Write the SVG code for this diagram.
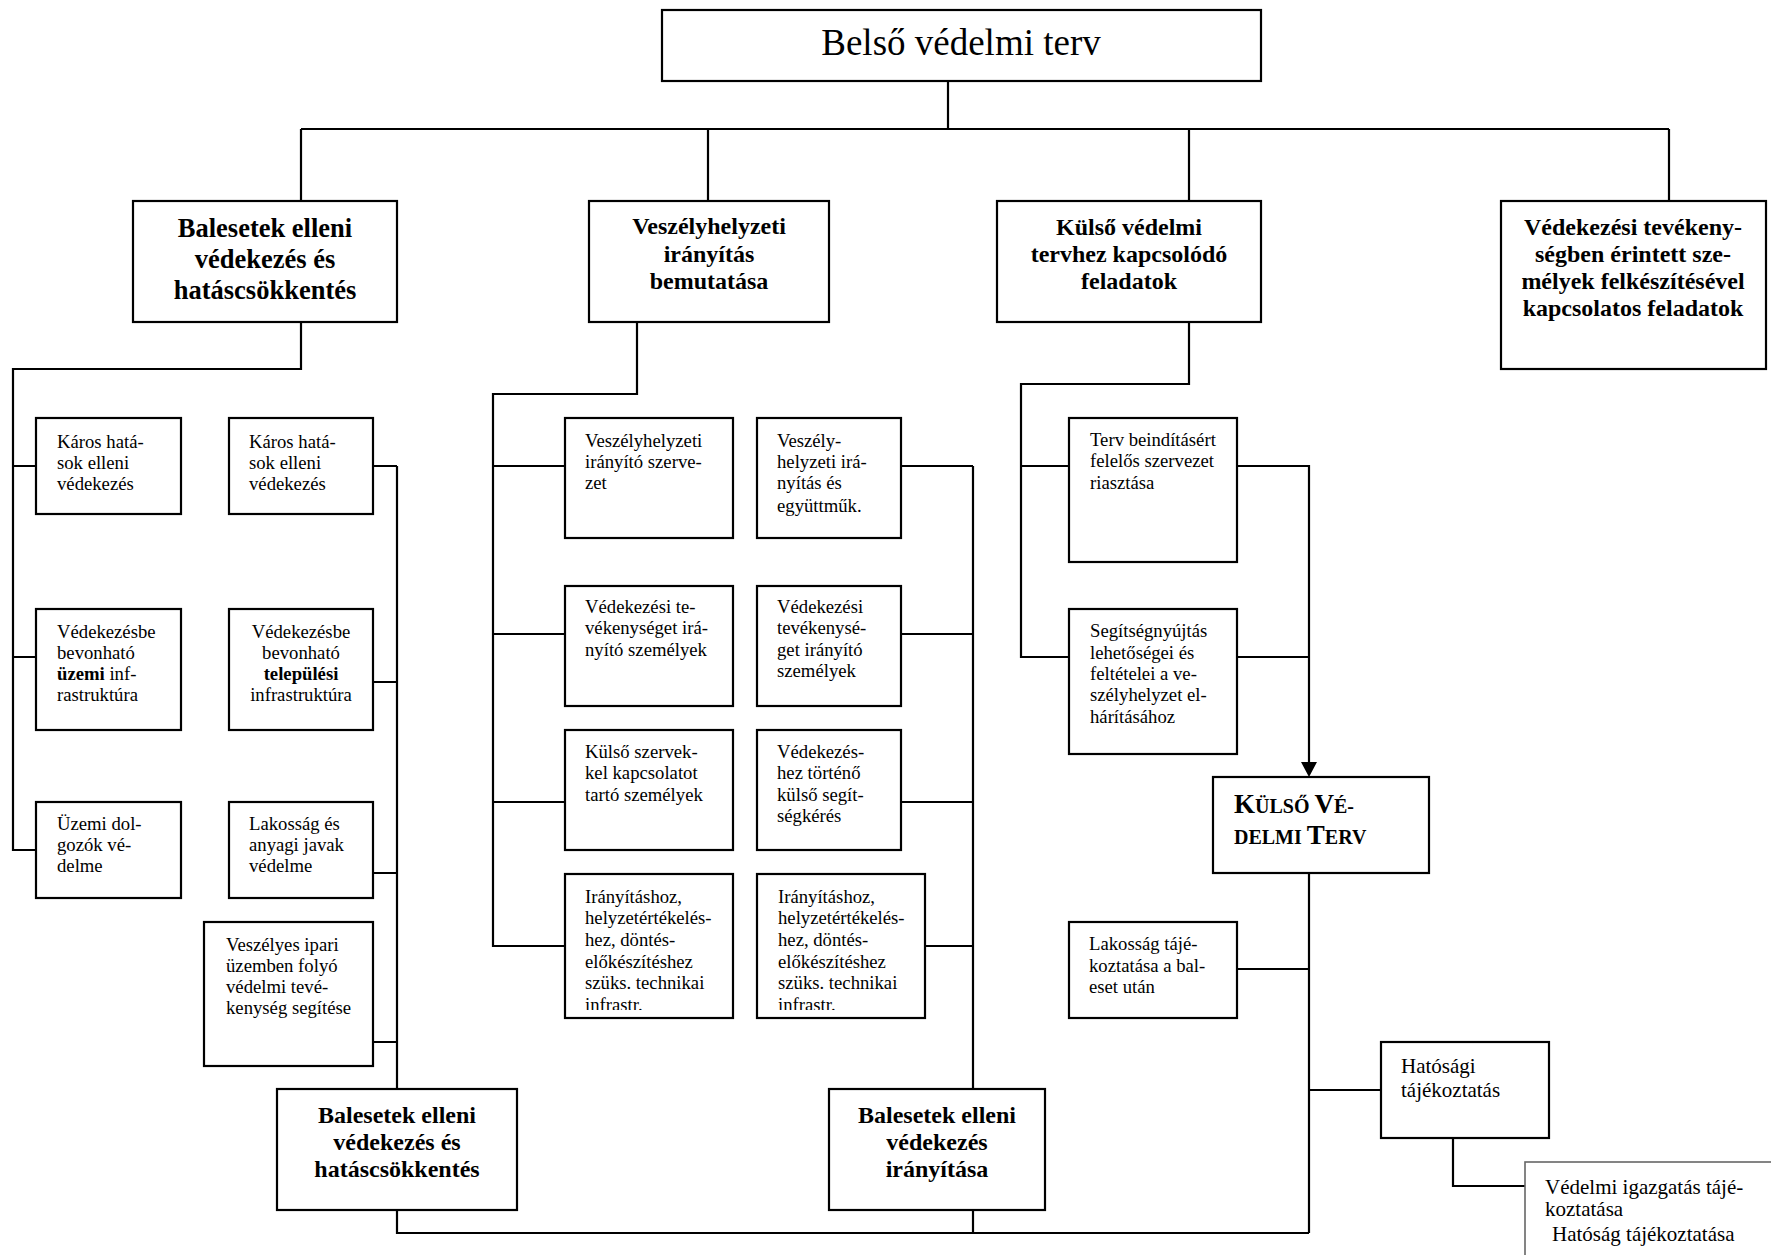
<svg xmlns="http://www.w3.org/2000/svg" width="1771" height="1255" viewBox="0 0 1771 1255">
  <style>
    .box { fill: #fff; stroke: #000; stroke-width: 2.2; }
    .ln { fill: none; stroke: #000; stroke-width: 2.2; }
    .t { font-family: "Liberation Serif", "Times New Roman", serif; font-size: 18.7px; fill: #000; }
    .hd { font-family: "Liberation Serif", "Times New Roman", serif; font-size: 24px; font-weight: bold; text-anchor: middle; fill: #000; }
    .c { text-anchor: middle; }
    .b { font-weight: bold; }
    .big { font-size: 21px; }
  </style>
  <defs>
    <!-- filled arrowhead, drawn along +x so orient="auto" turns it with the line -->
    <marker id="arrow" markerWidth="16" markerHeight="16" refX="0" refY="8" orient="auto" markerUnits="userSpaceOnUse" viewBox="0 0 16 16">
      <path d="M0,0 L15,8 L0,16 Z" fill="#000"/>
    </marker>
    <clipPath id="clipC4"><rect x="565" y="874" width="168" height="136"/></clipPath>
    <clipPath id="clipD4"><rect x="757" y="874" width="168" height="136"/></clipPath>
  </defs>

  <!-- connectors -->
  <g id="connectors">
    <path class="ln" d="M948,81 V129"/>
    <path class="ln" d="M301,129 H1669"/>
    <path class="ln" d="M301,129 V201 M708,129 V201 M1189,129 V201 M1669,129 V201"/>

    <!-- left branch -->
    <path class="ln" d="M301,322 V369 H13 V850 H36"/>
    <path class="ln" d="M13,466 H36 M13,657 H36"/>
    <path class="ln" d="M373,466 H397 M373,682 H397 M373,873 H397 M373,1042 H397"/>
    <path class="ln" d="M397,466 V1089"/>
    <path class="ln" d="M397,1210 V1233 H1309"/>

    <!-- middle branch -->
    <path class="ln" d="M637,322 V394 H493 V946 H565"/>
    <path class="ln" d="M493,466 H565 M493,634 H565 M493,802 H565"/>
    <path class="ln" d="M901,466 H973 M901,634 H973 M901,802 H973 M925,946 H973"/>
    <path class="ln" d="M973,466 V1089"/>
    <path class="ln" d="M973,1210 V1233"/>

    <!-- right branch -->
    <path class="ln" d="M1189,322 V384 H1021 V657 H1069"/>
    <path class="ln" d="M1021,466 H1069"/>
    <path class="ln" d="M1237,466 H1309 V762" marker-end="url(#arrow)"/>
    <path class="ln" d="M1237,657 H1309"/>
    <path class="ln" d="M1309,873 V1233"/>
    <path class="ln" d="M1237,969 H1309"/>
    <path class="ln" d="M1309,1090 H1381"/>
    <path class="ln" d="M1453,1138 V1186 H1525"/>
  </g>

  <!-- title -->
  <g id="title">
    <rect class="box" x="662" y="10" width="599" height="71"/>
    <text class="t c" x="961" y="55" style="font-size:37px">Belső védelmi terv</text>
  </g>

  <!-- level 1 -->
  <g id="balesetek">
    <rect class="box" x="133" y="201" width="264" height="121"/>
    <text class="hd" x="265" style="font-size:26.5px"><tspan x="265" y="237">Balesetek elleni</tspan><tspan x="265" y="268">védekezés és</tspan><tspan x="265" y="299">hatáscsökkentés</tspan></text>
  </g>
  <g id="veszelyhelyzeti">
    <rect class="box" x="589" y="201" width="240" height="121"/>
    <text class="hd"><tspan x="709" y="234">Veszélyhelyzeti</tspan><tspan x="709" y="262">irányítás</tspan><tspan x="709" y="289">bemutatása</tspan></text>
  </g>
  <g id="kulso-feladatok">
    <rect class="box" x="997" y="201" width="264" height="121"/>
    <text class="hd"><tspan x="1129" y="235">Külső védelmi</tspan><tspan x="1129" y="262">tervhez kapcsolódó</tspan><tspan x="1129" y="289">feladatok</tspan></text>
  </g>
  <g id="felkeszites">
    <rect class="box" x="1501" y="201" width="265" height="168"/>
    <text class="hd"><tspan x="1633" y="235">Védekezési tevékeny-</tspan><tspan x="1633" y="262">ségben érintett sze-</tspan><tspan x="1633" y="289">mélyek felkészítésével</tspan><tspan x="1633" y="316">kapcsolatos feladatok</tspan></text>
  </g>

  <!-- left column A -->
  <g id="a1">
    <rect class="box" x="36" y="418" width="145" height="96"/>
    <text class="t"><tspan x="57" y="448">Káros hatá-</tspan><tspan x="57" y="469">sok elleni</tspan><tspan x="57" y="490">védekezés</tspan></text>
  </g>
  <g id="a2">
    <rect class="box" x="36" y="609" width="145" height="121"/>
    <text class="t"><tspan x="57" y="638">Védekezésbe</tspan><tspan x="57" y="659">bevonható</tspan><tspan x="57" y="680"><tspan class="b">üzemi</tspan> inf-</tspan><tspan x="57" y="701">rastruktúra</tspan></text>
  </g>
  <g id="a3">
    <rect class="box" x="36" y="802" width="145" height="96"/>
    <text class="t"><tspan x="57" y="830">Üzemi dol-</tspan><tspan x="57" y="851">gozók vé-</tspan><tspan x="57" y="872">delme</tspan></text>
  </g>

  <!-- left column B -->
  <g id="b1">
    <rect class="box" x="229" y="418" width="144" height="96"/>
    <text class="t"><tspan x="249" y="448">Káros hatá-</tspan><tspan x="249" y="469">sok elleni</tspan><tspan x="249" y="490">védekezés</tspan></text>
  </g>
  <g id="b2">
    <rect class="box" x="229" y="609" width="144" height="121"/>
    <text class="t c"><tspan x="301" y="638">Védekezésbe</tspan><tspan x="301" y="659">bevonható</tspan><tspan x="301" y="680" class="b">települési</tspan><tspan x="301" y="701">infrastruktúra</tspan></text>
  </g>
  <g id="b3">
    <rect class="box" x="229" y="802" width="144" height="96"/>
    <text class="t"><tspan x="249" y="830">Lakosság és</tspan><tspan x="249" y="851">anyagi javak</tspan><tspan x="249" y="872">védelme</tspan></text>
  </g>
  <g id="b4">
    <rect class="box" x="204" y="922" width="169" height="144"/>
    <text class="t"><tspan x="226" y="951">Veszélyes ipari</tspan><tspan x="226" y="972">üzemben folyó</tspan><tspan x="226" y="993">védelmi tevé-</tspan><tspan x="226" y="1014">kenység segítése</tspan></text>
  </g>
  <g id="bottom-balesetek">
    <rect class="box" x="277" y="1089" width="240" height="121"/>
    <text class="hd"><tspan x="397" y="1123">Balesetek elleni</tspan><tspan x="397" y="1150">védekezés és</tspan><tspan x="397" y="1177">hatáscsökkentés</tspan></text>
  </g>

  <!-- middle column C -->
  <g id="c1">
    <rect class="box" x="565" y="418" width="168" height="120"/>
    <text class="t"><tspan x="585" y="447">Veszélyhelyzeti</tspan><tspan x="585" y="468">irányító szerve-</tspan><tspan x="585" y="489">zet</tspan></text>
  </g>
  <g id="c2">
    <rect class="box" x="565" y="586" width="168" height="120"/>
    <text class="t"><tspan x="585" y="613">Védekezési te-</tspan><tspan x="585" y="634">vékenységet irá-</tspan><tspan x="585" y="656">nyító személyek</tspan></text>
  </g>
  <g id="c3">
    <rect class="box" x="565" y="730" width="168" height="120"/>
    <text class="t"><tspan x="585" y="758">Külső szervek-</tspan><tspan x="585" y="779">kel kapcsolatot</tspan><tspan x="585" y="801">tartó személyek</tspan></text>
  </g>
  <g id="c4">
    <rect class="box" x="565" y="874" width="168" height="144"/>
    <text class="t" clip-path="url(#clipC4)"><tspan x="585" y="903">Irányításhoz,</tspan><tspan x="585" y="924">helyzetértékelés-</tspan><tspan x="585" y="946">hez, döntés-</tspan><tspan x="585" y="968">előkészítéshez</tspan><tspan x="585" y="989">szüks. technikai</tspan><tspan x="585" y="1011">infrastr.</tspan></text>
  </g>

  <!-- middle column D -->
  <g id="d1">
    <rect class="box" x="757" y="418" width="144" height="120"/>
    <text class="t"><tspan x="777" y="447">Veszély-</tspan><tspan x="777" y="468">helyzeti irá-</tspan><tspan x="777" y="489">nyítás és</tspan><tspan x="777" y="512">együttműk.</tspan></text>
  </g>
  <g id="d2">
    <rect class="box" x="757" y="586" width="144" height="120"/>
    <text class="t"><tspan x="777" y="613">Védekezési</tspan><tspan x="777" y="634">tevékenysé-</tspan><tspan x="777" y="656">get irányító</tspan><tspan x="777" y="677">személyek</tspan></text>
  </g>
  <g id="d3">
    <rect class="box" x="757" y="730" width="144" height="120"/>
    <text class="t"><tspan x="777" y="758">Védekezés-</tspan><tspan x="777" y="779">hez történő</tspan><tspan x="777" y="801">külső segít-</tspan><tspan x="777" y="822">ségkérés</tspan></text>
  </g>
  <g id="d4">
    <rect class="box" x="757" y="874" width="168" height="144"/>
    <text class="t" clip-path="url(#clipD4)"><tspan x="778" y="903">Irányításhoz,</tspan><tspan x="778" y="924">helyzetértékelés-</tspan><tspan x="778" y="946">hez, döntés-</tspan><tspan x="778" y="968">előkészítéshez</tspan><tspan x="778" y="989">szüks. technikai</tspan><tspan x="778" y="1011">infrastr.</tspan></text>
  </g>
  <g id="bottom-iranyitas">
    <rect class="box" x="829" y="1089" width="216" height="121"/>
    <text class="hd"><tspan x="937" y="1123">Balesetek elleni</tspan><tspan x="937" y="1150">védekezés</tspan><tspan x="937" y="1177">irányítása</tspan></text>
  </g>

  <!-- right column E -->
  <g id="e1">
    <rect class="box" x="1069" y="418" width="168" height="144"/>
    <text class="t"><tspan x="1090" y="446">Terv beindításért</tspan><tspan x="1090" y="467">felelős szervezet</tspan><tspan x="1090" y="489">riasztása</tspan></text>
  </g>
  <g id="e2">
    <rect class="box" x="1069" y="609" width="168" height="145"/>
    <text class="t"><tspan x="1090" y="637">Segítségnyújtás</tspan><tspan x="1090" y="659">lehetőségei és</tspan><tspan x="1090" y="680">feltételei a ve-</tspan><tspan x="1090" y="701">szélyhelyzet el-</tspan><tspan x="1090" y="723">hárításához</tspan></text>
  </g>
  <g id="kulso-vedelmi-terv">
    <rect class="box" x="1213" y="777" width="216" height="96"/>
    <text class="t b" style="font-size:20px"><tspan x="1234" y="813"><tspan style="font-size:27px">K</tspan>ÜLSŐ <tspan style="font-size:27px">V</tspan>É-</tspan><tspan x="1234" y="844">DELMI <tspan style="font-size:27px">T</tspan>ERV</tspan></text>
  </g>
  <g id="lakossag-tajekoztatas">
    <rect class="box" x="1069" y="922" width="168" height="96"/>
    <text class="t"><tspan x="1089" y="950">Lakosság tájé-</tspan><tspan x="1089" y="972">koztatása a bal-</tspan><tspan x="1089" y="993">eset után</tspan></text>
  </g>
  <g id="hatosagi-tajekoztatas">
    <rect class="box" x="1381" y="1042" width="168" height="96"/>
    <text class="t big"><tspan x="1401" y="1073">Hatósági</tspan><tspan x="1401" y="1097">tájékoztatás</tspan></text>
  </g>
  <g id="vedelmi-igazgatas">
    <rect x="1525" y="1162" width="270" height="120" fill="#fff" stroke="#666" stroke-width="1.6"/>
    <text class="t big"><tspan x="1545" y="1194">Védelmi igazgatás tájé-</tspan><tspan x="1545" y="1216">koztatása</tspan><tspan x="1552" y="1241">Hatóság tájékoztatása</tspan></text>
  </g>
</svg>
